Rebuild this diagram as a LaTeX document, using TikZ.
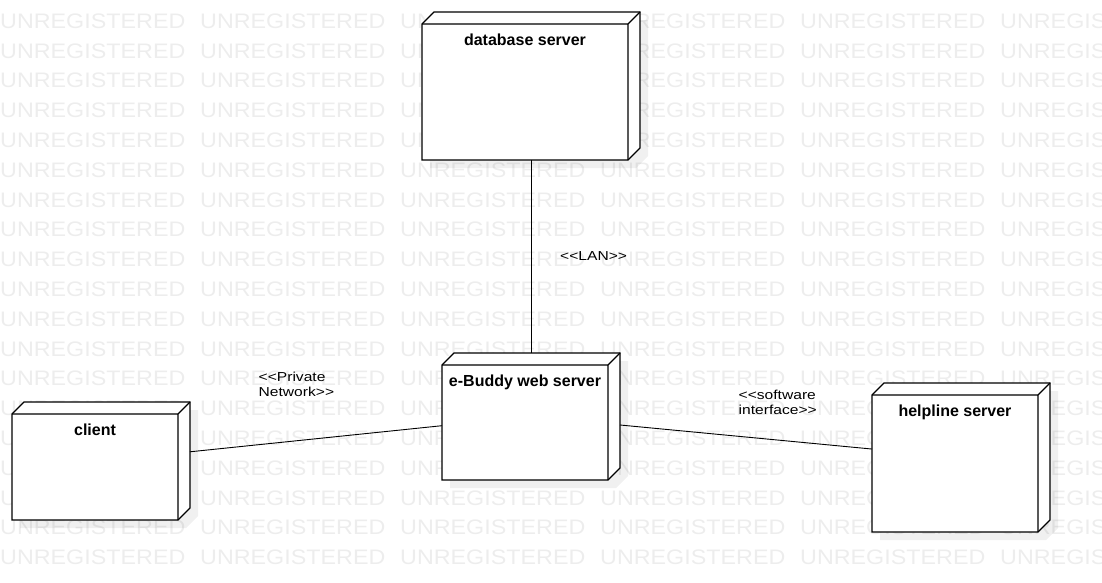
\documentclass[tikz,border=0pt]{standalone}
\usepackage{fontspec}
\setmainfont{Liberation Sans}
\newfontfamily\wmfont[FakeStretch=1.11]{Liberation Sans}
\newfontfamily\lblfont[FakeStretch=1.2]{Liberation Sans}
\definecolor{wmgray}{HTML}{EDEDED}

\tikzset{
    devbox/.style={rectangle, inner sep=0pt, outer sep=0pt},
    devface/.style={draw=black, line width=1.2pt, fill=white, line join=miter},
    devshadow/.style={fill=black, fill opacity=0.06},
    devtitle/.style={font=\fontsize{16}{19}\selectfont\bfseries, inner sep=0pt, anchor=base},
    link/.style={draw=black, line width=0.9pt},
    linklabel/.style={font=\lblfont\fontsize{13}{15}\selectfont, inner sep=0pt, align=left},
    watermark/.style={font=\wmfont\fontsize{21}{21}\selectfont, text=wmgray, inner sep=0pt, anchor=base west}
}

% name, left and top of the front face, width, height, title
\newcommand{\devnode}[6]{%
    \fill[devshadow] (#2+8,#3+#5+8) -- ++(0,-#5) -- ++(12,-12) -- ++(#4,0) -- ++(0,#5) -- ++(-12,12) -- cycle;
    \node[devbox, minimum width=#4+12, minimum height=#5+12, anchor=north west] (#1) at (#2,#3-12) {};
    \draw[devface] (#1.south west) -- ++(0,-#5) -- ++(12,-12) -- ++(#4,0) -- ++(0,#5) -- ++(-12,12) -- cycle;
    \draw[devface, fill=none] (#1.south west) ++(0,-#5) -- ++(#4,0) -- ++(12,-12) ++(-12,12) -- ++(0,#5);
    \node[devtitle] (#1-title) at (#2+#4/2,#3+21) {#6};
}

\begin{document}
\begin{tikzpicture}[x=1pt, y=-1pt]
    \useasboundingbox (0,0) rectangle (1102,582);
    \clip (0,0) rectangle (1102,582);

    \foreach \row in {0,...,18} {
        \foreach \col in {0,...,5} {
            \node[watermark] (wm-\row-\col) at (\col*200, 28.3+\row*29.8) {UNREGISTERED};
        }
    }

    \devnode{db}{422}{24}{206}{136}{database server}
    \devnode{web}{442}{365}{166}{115}{e-Buddy web server}
    \devnode{client}{12}{414}{166}{106}{client}
    \devnode{helpline}{872}{395}{166}{137}{helpline server}

    \draw[link] (db) -- (web);
    \draw[link] (client) -- (web);
    \draw[link] (web) -- (helpline);

    \node[linklabel, anchor=base west] (lan) at (560,260) {<\kern0pt<LAN>\kern0pt>};
    \node[linklabel, anchor=north west] (private) at (258.5,371.5) {<\kern0pt<Private\\Network>\kern0pt>};
    \node[linklabel, anchor=north west] (software) at (738.5,390) {<\kern0pt<software\\interface>\kern0pt>};
\end{tikzpicture}
\end{document}
